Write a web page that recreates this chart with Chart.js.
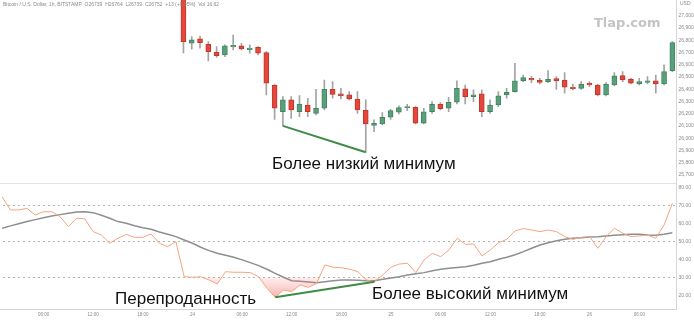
<!DOCTYPE html>
<html>
<head>
<meta charset="utf-8">
<script src="https://cdn.jsdelivr.net/npm/chart.js@4.4.0/dist/chart.umd.min.js"></script>
<style>
  html, body { margin: 0; padding: 0; background: #fff; }
  body { width: 694px; height: 323px; overflow: hidden; position: relative; font-family: "Liberation Sans", Arial, sans-serif; }
  .pane { position: absolute; left: -3px; width: 697px; }
  #pricePane { top: 0; height: 184px; }
  #rsiPane { top: 183px; height: 140px; }
  .txt { position: absolute; white-space: nowrap; }
  .note { color: #111; font-size: 17px; line-height: 17px; }
  .tiny { color: #8a8a8a; font-size: 5px; line-height: 6px; }
  #mark { left: 594px; top: 16px; font-family: "DejaVu Sans", sans-serif; font-weight: bold; font-size: 13px; line-height: 13px; color: #c4c4c4; }
</style>
</head>
<body>
<div class="pane" id="pricePane"><canvas id="priceChart"></canvas></div>
<div class="pane" id="rsiPane"><canvas id="rsiChart"></canvas></div>

<div class="txt tiny" style="left:3px; top:1px;">Bitcoin / U.S. Dollar, 1h, BITSTAMP&nbsp; O26739&nbsp; H26764&nbsp; L26739&nbsp; C26752&nbsp; +13 (+0.05%)&nbsp; Vol 16.62</div>
<div class="txt tiny" style="left:680px; top:0px;">USD</div>
<div class="txt" id="mark">Tlap.com</div>
<div class="txt note" style="left:272px; top:155px;">Более низкий минимум</div>
<div class="txt note" style="left:115px; top:290px;">Перепроданность</div>
<div class="txt note" style="left:372px; top:285px;">Более высокий минимум</div>

<script>
// hourly bars, 23rd 01:00 .. 26th 10:00
var hours = [
  '23 01:00','23 02:00','23 03:00','23 04:00','23 05:00','23 06:00','23 07:00','23 08:00','23 09:00','23 10:00','23 11:00','23 12:00',
  '23 13:00','23 14:00','23 15:00','23 16:00','23 17:00','23 18:00','23 19:00','23 20:00','23 21:00','23 22:00','23 23:00',
  '24 00:00','24 01:00','24 02:00','24 03:00','24 04:00','24 05:00','24 06:00','24 07:00','24 08:00','24 09:00','24 10:00','24 11:00',
  '24 12:00','24 13:00','24 14:00','24 15:00','24 16:00','24 17:00','24 18:00','24 19:00','24 20:00','24 21:00','24 22:00','24 23:00',
  '25 00:00','25 01:00','25 02:00','25 03:00','25 04:00','25 05:00','25 06:00','25 07:00','25 08:00','25 09:00','25 10:00','25 11:00',
  '25 12:00','25 13:00','25 14:00','25 15:00','25 16:00','25 17:00','25 18:00','25 19:00','25 20:00','25 21:00','25 22:00','25 23:00',
  '26 00:00','26 01:00','26 02:00','26 03:00','26 04:00','26 05:00','26 06:00','26 07:00','26 08:00','26 09:00','26 10:00'
];

var tickHours = ['23 06:00','23 12:00','23 18:00','24 00:00','24 06:00','24 12:00','24 18:00','25 00:00','25 06:00','25 12:00','25 18:00','26 00:00','26 06:00'];
var tickText  = ['06:00','12:00','18:00','24','06:00','12:00','18:00','25','06:00','12:00','18:00','26','06:00'];

var priceTicks = [27000, 26900, 26800, 26700, 26600, 26500, 26400, 26300, 26200, 26100, 26000, 25900, 25800, 25700];
var rsiTicks = [80, 70, 60, 50, 40, 30, 20];
var rsiBands = [70, 50, 30];

// candles start at 23 23:00 (earlier ones sit above the visible range)
var firstCandle = '23 23:00';
var opens = [27230,26775,26810,26767,26701,26679,26745,26753,26722,26742,26698,26434,26216,26312,26216,26271,26203,26244,26399,26361,
  26353,26320,26230,26105,26116,26171,26212,26250,26252,26122,26216,26277,26244,26293,26402,26339,26361,26216,26271,26353,
  26380,26469,26489,26475,26461,26486,26475,26416,26407,26448,26434,26353,26434,26510,26481,26442,26456,26469,26442,26551];
var closes = [26788,26802,26780,26706,26674,26753,26758,26728,26736,26693,26448,26244,26312,26230,26279,26216,26244,26399,26358,26345,
  26320,26230,26116,26122,26171,26225,26249,26253,26122,26216,26277,26241,26293,26407,26339,26353,26216,26271,26345,26375,
  26469,26494,26475,26456,26481,26467,26416,26404,26442,26434,26353,26442,26508,26475,26448,26461,26469,26442,26543,26780];
var highs = [27260,26829,26834,26788,26747,26761,26842,26775,26761,26747,26706,26438,26339,26339,26347,26326,26399,26475,26461,26407,
  26380,26380,26312,26149,26208,26236,26263,26277,26257,26244,26298,26290,26334,26469,26434,26394,26394,26312,26380,26407,
  26611,26516,26502,26489,26551,26502,26535,26442,26461,26461,26442,26453,26535,26543,26489,26489,26502,26516,26598,26788];
var lows = [26696,26726,26734,26630,26660,26665,26720,26720,26693,26679,26353,26154,26100,26162,26176,26176,26189,26230,26326,26320,
  26312,26203,25885,26053,26108,26154,26198,26225,26116,26116,26203,26230,26216,26279,26279,26298,26176,26203,26257,26326,
  26375,26461,26453,26442,26453,26399,26367,26394,26399,26420,26345,26345,26426,26461,26442,26434,26442,26367,26434,26543];

var rsi = [75,67.6,67.6,68.5,64.8,66.6,66.6,63.9,58.3,63,62.6,55.5,53.6,49,51.8,54,52.3,52.3,54.2,49,47.1,49.9,
  30.3,30,30.3,28.5,26.3,33.1,32.8,32.8,32.6,30.3,23.9,18.8,22.9,22,25.7,24.4,26.6,36.9,35.6,35.3,
  34.5,33.1,28.5,27.5,31.3,35.6,37.4,37.8,32.6,39.7,43.4,41.5,45.3,51.8,48.4,48.6,41.9,45.3,49.3,
  51.2,56,57.2,56.4,55.5,56.4,55.5,52.7,51.2,52.3,52.7,46.2,52.7,57.4,54.6,52.7,53.1,53.6,51.8,59.2,71.3];
var rsiMa = [57.4,58.7,59.9,61.1,62.2,63.3,64.2,65,65.8,66.5,66.6,66.1,64.6,63,61.1,60.2,58.8,57.7,56.8,55.3,54,52.7,
  50.8,49,46.8,44.9,43.4,42.3,41.2,39.7,38.2,36.5,34.5,32.2,30,28.1,27.8,27.4,27,27.5,28.1,28.5,
  28.5,28.3,28.1,28.1,28.9,29.6,30.3,31.3,32,32.6,33.7,34.5,35,35.4,35.9,36.7,37.8,38.7,40.1,
  41.2,42.6,44.3,46.2,48,49.3,50.4,51.2,51.8,52.1,52.5,52.7,53.1,53.5,53.8,54,54,53.6,53.5,54,54.9];

// divergence marks: lower low on price, higher low on RSI
var priceLowFrom = '24 11:00', priceLowTo = '24 21:00';
var rsiLowFrom = '24 10:00', rsiLowTo = '24 22:00';

var green = '#5a9f7b', greenEdge = '#3f8660';
var red = '#e5473b', redEdge = '#c1352b';
var lineGreen = '#3e8c45';

var start = hours.indexOf(firstCandle);
var bodies = [], wicks = [], fills = [], edges = [];
for (var i = 0; i < opens.length; i++) {
  var t = hours[start + i];
  bodies.push({ x: t, y: [opens[i], closes[i]] });
  wicks.push({ x: t, y: [lows[i], highs[i]] });
  var up = closes[i] >= opens[i];
  fills.push(up ? green : red);
  edges.push(up ? greenEdge : redEdge);
}
function lowAt(t) { return lows[hours.indexOf(t) - start]; }

function noPad(s) { s.paddingTop = 0; s.paddingBottom = 0; s.paddingLeft = 0; s.paddingRight = 0; }
var tinyFont = { family: 'Liberation Sans', size: 5 };

new Chart(document.getElementById('priceChart'), {
  type: 'bar',
  data: {
    labels: hours,
    datasets: [
      { type: 'line', data: [{ x: priceLowFrom, y: lowAt(priceLowFrom) }, { x: priceLowTo, y: lowAt(priceLowTo) }],
        borderColor: lineGreen, borderWidth: 2, pointRadius: 0, order: 0 },
      { data: bodies, backgroundColor: fills, borderColor: edges, borderWidth: 1, borderSkipped: false,
        barThickness: 5, grouped: false, minBarLength: 1, order: 1 },
      { data: wicks, backgroundColor: '#a3a3a3', barThickness: 1, grouped: false, order: 2 }
    ]
  },
  options: {
    responsive: true, maintainAspectRatio: false, animation: false,
    layout: { padding: 0 },
    plugins: { legend: { display: false }, tooltip: { enabled: false } },
    scales: {
      x: {
        ticks: { display: false }, grid: { display: false },
        border: { color: '#e3e3e3' },
        afterFit: function(s) { s.height = 1; noPad(s); }
      },
      y: {
        position: 'right', min: 25634, max: 27128,
        afterBuildTicks: function(s) { s.ticks = priceTicks.map(function(v) { return { value: v }; }); },
        ticks: { font: tinyFont, color: '#8a8a8a', padding: 2 },
        grid: { display: false, drawTicks: false },
        border: { color: '#d6d6d6' },
        afterFit: function(s) { s.width = 17.5; noPad(s); }
      }
    }
  }
});

var rsiChart = new Chart(document.getElementById('rsiChart'), {
  type: 'line',
  data: {
    labels: hours,
    datasets: [
      { data: [{ x: rsiLowFrom, y: rsi[hours.indexOf(rsiLowFrom)] }, { x: rsiLowTo, y: rsi[hours.indexOf(rsiLowTo)] }],
        borderColor: lineGreen, borderWidth: 2, pointRadius: 0, order: 0 },
      { data: rsi, borderColor: '#f5a47e', borderWidth: 1, pointRadius: 0, order: 1,
        fill: { target: { value: 30 }, above: 'rgba(0,0,0,0)', below: 'rgba(245,90,90,0.25)' } },
      { data: rsiMa, borderColor: '#8e8e8e', borderWidth: 1.5, pointRadius: 0, order: 2 }
    ]
  },
  options: {
    responsive: true, maintainAspectRatio: false, animation: false,
    layout: { padding: 0 },
    plugins: { legend: { display: false }, tooltip: { enabled: false } },
    scales: {
      x: {
        offset: true,
        grid: { display: false, drawTicks: false },
        border: { color: '#d6d6d6' },
        ticks: {
          autoSkip: false, maxRotation: 0, minRotation: 0, padding: 3,
          font: { family: 'Liberation Sans', size: 4.5 }, color: '#8a8a8a',
          callback: function(v, i) { var k = tickHours.indexOf(hours[i]); return k < 0 ? '' : tickText[k]; }
        },
        afterFit: function(s) { s.height = 13.5; noPad(s); }
      },
      y: {
        position: 'right', min: 12, max: 82.1,
        afterBuildTicks: function(s) { s.ticks = rsiTicks.map(function(v) { return { value: v }; }); },
        ticks: { font: tinyFont, color: '#8a8a8a', padding: 2, callback: function(v) { return v.toFixed(2); } },
        grid: {
          drawTicks: false,
          color: function(c) { return rsiBands.indexOf(c.tick.value) >= 0 ? '#b4b4b4' : 'rgba(0,0,0,0)'; }
        },
        border: { color: '#d6d6d6', dash: [2, 3] },
        afterFit: function(s) { s.width = 17.5; noPad(s); }
      }
    }
  }
});

// oversold fill: pale at the 30 line, stronger lower down
var ys = rsiChart.scales.y;
var grad = rsiChart.ctx.createLinearGradient(0, ys.getPixelForValue(30), 0, ys.getPixelForValue(18));
grad.addColorStop(0, 'rgba(250,120,120,0.12)');
grad.addColorStop(1, 'rgba(240,70,70,0.45)');
rsiChart.data.datasets[1].fill.below = grad;
rsiChart.update();
</script>
</body>
</html>
